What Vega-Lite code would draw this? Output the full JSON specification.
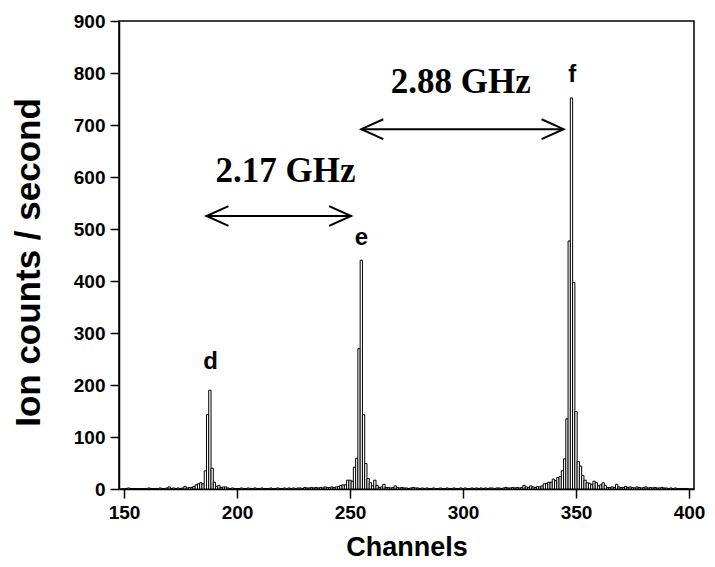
{
  "$schema": "https://vega.github.io/schema/vega-lite/v6.json",
  "width": 575,
  "height": 468,
  "autosize": {"type": "none"},
  "padding": {"left": 119, "top": 21, "right": 21, "bottom": 78},
  "background": "white",
  "config": {
    "view": {"stroke": "black", "strokeWidth": 1.5},
    "axis": {
      "grid": false,
      "domainColor": "black",
      "domainWidth": 1.5,
      "tickColor": "black",
      "tickWidth": 1.5,
      "tickSize": 9,
      "labelFont": "Liberation Sans",
      "labelFontWeight": "bold",
      "labelFontSize": 19,
      "labelColor": "black",
      "titleFont": "Liberation Sans",
      "titleFontWeight": "bold",
      "titleFontSize": 27,
      "titleColor": "black"
    }
  },
  "datasets": {
    "counts": [
      {"c":150,"v":0},{"c":151,"v":1},{"c":152,"v":2},{"c":153,"v":1},{"c":154,"v":0},{"c":155,"v":1},{"c":156,"v":0},{"c":157,"v":1},{"c":158,"v":0},{"c":159,"v":1},
      {"c":160,"v":1},{"c":161,"v":2},{"c":162,"v":1},{"c":163,"v":1},{"c":164,"v":1},{"c":165,"v":1},{"c":166,"v":2},{"c":167,"v":1},{"c":168,"v":1},{"c":169,"v":2},
      {"c":170,"v":4},{"c":171,"v":1},{"c":172,"v":2},{"c":173,"v":1},{"c":174,"v":2},{"c":175,"v":1},{"c":176,"v":2},{"c":177,"v":5},{"c":178,"v":2},{"c":179,"v":3},
      {"c":180,"v":3},{"c":181,"v":5},{"c":182,"v":8},{"c":183,"v":10},{"c":184,"v":12},{"c":185,"v":10},{"c":186,"v":35},{"c":187,"v":143},{"c":188,"v":190},{"c":189,"v":40},
      {"c":190,"v":13},{"c":191,"v":5},{"c":192,"v":7},{"c":193,"v":3},{"c":194,"v":4},{"c":195,"v":4},{"c":196,"v":2},{"c":197,"v":1},{"c":198,"v":2},{"c":199,"v":1},
      {"c":200,"v":1},{"c":201,"v":1},{"c":202,"v":2},{"c":203,"v":1},{"c":204,"v":1},{"c":205,"v":2},{"c":206,"v":1},{"c":207,"v":1},{"c":208,"v":2},{"c":209,"v":1},
      {"c":210,"v":1},{"c":211,"v":2},{"c":212,"v":1},{"c":213,"v":1},{"c":214,"v":1},{"c":215,"v":2},{"c":216,"v":1},{"c":217,"v":1},{"c":218,"v":2},{"c":219,"v":1},
      {"c":220,"v":1},{"c":221,"v":2},{"c":222,"v":1},{"c":223,"v":2},{"c":224,"v":1},{"c":225,"v":2},{"c":226,"v":1},{"c":227,"v":2},{"c":228,"v":2},{"c":229,"v":1},
      {"c":230,"v":3},{"c":231,"v":2},{"c":232,"v":2},{"c":233,"v":3},{"c":234,"v":2},{"c":235,"v":3},{"c":236,"v":2},{"c":237,"v":3},{"c":238,"v":2},{"c":239,"v":4},
      {"c":240,"v":3},{"c":241,"v":3},{"c":242,"v":4},{"c":243,"v":3},{"c":244,"v":4},{"c":245,"v":5},{"c":246,"v":7},{"c":247,"v":8},{"c":248,"v":8},{"c":249,"v":17},
      {"c":250,"v":17},{"c":251,"v":15},{"c":252,"v":42},{"c":253,"v":59},{"c":254,"v":270},{"c":255,"v":440},{"c":256,"v":143},{"c":257,"v":49},{"c":258,"v":20},{"c":259,"v":12},
      {"c":260,"v":6},{"c":261,"v":17},{"c":262,"v":7},{"c":263,"v":3},{"c":264,"v":4},{"c":265,"v":9},{"c":266,"v":3},{"c":267,"v":3},{"c":268,"v":2},{"c":269,"v":3},
      {"c":270,"v":6},{"c":271,"v":3},{"c":272,"v":2},{"c":273,"v":3},{"c":274,"v":2},{"c":275,"v":2},{"c":276,"v":1},{"c":277,"v":2},{"c":278,"v":3},{"c":279,"v":2},
      {"c":280,"v":2},{"c":281,"v":1},{"c":282,"v":2},{"c":283,"v":1},{"c":284,"v":2},{"c":285,"v":1},{"c":286,"v":1},{"c":287,"v":2},{"c":288,"v":1},{"c":289,"v":1},
      {"c":290,"v":2},{"c":291,"v":1},{"c":292,"v":1},{"c":293,"v":2},{"c":294,"v":1},{"c":295,"v":1},{"c":296,"v":2},{"c":297,"v":1},{"c":298,"v":1},{"c":299,"v":2},
      {"c":300,"v":1},{"c":301,"v":2},{"c":302,"v":1},{"c":303,"v":1},{"c":304,"v":2},{"c":305,"v":1},{"c":306,"v":2},{"c":307,"v":1},{"c":308,"v":2},{"c":309,"v":1},
      {"c":310,"v":2},{"c":311,"v":1},{"c":312,"v":2},{"c":313,"v":2},{"c":314,"v":1},{"c":315,"v":2},{"c":316,"v":2},{"c":317,"v":1},{"c":318,"v":2},{"c":319,"v":3},
      {"c":320,"v":2},{"c":321,"v":2},{"c":322,"v":3},{"c":323,"v":2},{"c":324,"v":3},{"c":325,"v":2},{"c":326,"v":3},{"c":327,"v":7},{"c":328,"v":4},{"c":329,"v":3},
      {"c":330,"v":6},{"c":331,"v":4},{"c":332,"v":3},{"c":333,"v":5},{"c":334,"v":4},{"c":335,"v":6},{"c":336,"v":10},{"c":337,"v":11},{"c":338,"v":13},{"c":339,"v":13},
      {"c":340,"v":19},{"c":341,"v":16},{"c":342,"v":22},{"c":343,"v":24},{"c":344,"v":35},{"c":345,"v":58},{"c":346,"v":135},{"c":347,"v":477},{"c":348,"v":752},{"c":349,"v":397},
      {"c":350,"v":149},{"c":351,"v":53},{"c":352,"v":44},{"c":353,"v":26},{"c":354,"v":17},{"c":355,"v":12},{"c":356,"v":11},{"c":357,"v":9},{"c":358,"v":15},{"c":359,"v":12},
      {"c":360,"v":6},{"c":361,"v":8},{"c":362,"v":12},{"c":363,"v":7},{"c":364,"v":3},{"c":365,"v":3},{"c":366,"v":4},{"c":367,"v":3},{"c":368,"v":9},{"c":369,"v":4},
      {"c":370,"v":3},{"c":371,"v":3},{"c":372,"v":5},{"c":373,"v":3},{"c":374,"v":4},{"c":375,"v":3},{"c":376,"v":2},{"c":377,"v":4},{"c":378,"v":3},{"c":379,"v":2},
      {"c":380,"v":3},{"c":381,"v":4},{"c":382,"v":2},{"c":383,"v":3},{"c":384,"v":2},{"c":385,"v":3},{"c":386,"v":2},{"c":387,"v":2},{"c":388,"v":3},{"c":389,"v":2},
      {"c":390,"v":2},{"c":391,"v":1},{"c":392,"v":2},{"c":393,"v":1},{"c":394,"v":2},{"c":395,"v":1},{"c":396,"v":1},{"c":397,"v":1},{"c":398,"v":1},{"c":399,"v":1}
    ],
    "arrows": [
      {"x1": 186.5, "x2": 250.5, "y": 525},
      {"x1": 255, "x2": 344.5, "y": 692}
    ],
    "heads": [
      {"x": 186.5, "y": 525, "dir": "left"},
      {"x": 250.5, "y": 525, "dir": "right"},
      {"x": 255, "y": 692, "dir": "left"},
      {"x": 344.5, "y": 692, "dir": "right"}
    ],
    "ghz": [
      {"x": 221.5, "y": 591, "t": "2.17 GHz"},
      {"x": 299, "y": 762, "t": "2.88 GHz"}
    ],
    "peaks": [
      {"x": 188.3, "y": 231, "t": "d"},
      {"x": 255, "y": 469, "t": "e"},
      {"x": 348.3, "y": 783, "t": "f"}
    ]
  },
  "layer": [
    {
      "data": {"name": "counts"},
      "mark": {"type": "bar", "width": 2.3, "fill": "white", "stroke": "black", "strokeWidth": 1},
      "encoding": {
        "x": {
          "field": "c", "type": "quantitative",
          "scale": {"domain": [150, 400], "nice": false, "zero": false},
          "axis": {"values": [150, 200, 250, 300, 350, 400], "title": "Channels", "labelPadding": 5, "titlePadding": 12}
        },
        "y": {
          "field": "v", "type": "quantitative",
          "scale": {"domain": [0, 900], "nice": false},
          "axis": {"values": [0, 100, 200, 300, 400, 500, 600, 700, 800, 900], "title": "Ion counts / second", "labelPadding": 5, "titlePadding": 27, "titleFontSize": 35, "titleY": 241}
        }
      }
    },
    {
      "data": {"name": "arrows"},
      "mark": {"type": "rule", "color": "black", "strokeWidth": 2},
      "encoding": {
        "x": {"field": "x1", "type": "quantitative"},
        "x2": {"field": "x2"},
        "y": {"field": "y", "type": "quantitative"}
      }
    },
    {
      "data": {"name": "heads"},
      "mark": {"type": "point", "filled": false, "stroke": "black", "strokeWidth": 2, "size": 1936, "opacity": 1},
      "encoding": {
        "x": {"field": "x", "type": "quantitative"},
        "y": {"field": "y", "type": "quantitative"},
        "shape": {
          "field": "dir", "type": "nominal",
          "scale": {"domain": ["left", "right"], "range": ["M1,-0.45L0,0L1,0.45", "M-1,-0.45L0,0L-1,0.45"]},
          "legend": null
        }
      }
    },
    {
      "data": {"name": "ghz"},
      "mark": {"type": "text", "font": "Liberation Serif", "fontWeight": "bold", "fontSize": 35, "baseline": "alphabetic", "align": "center", "color": "black"},
      "encoding": {
        "x": {"field": "x", "type": "quantitative"},
        "y": {"field": "y", "type": "quantitative"},
        "text": {"field": "t"}
      }
    },
    {
      "data": {"name": "peaks"},
      "mark": {"type": "text", "font": "Liberation Sans", "fontWeight": "bold", "fontSize": 24, "baseline": "alphabetic", "align": "center", "color": "black"},
      "encoding": {
        "x": {"field": "x", "type": "quantitative"},
        "y": {"field": "y", "type": "quantitative"},
        "text": {"field": "t"}
      }
    }
  ]
}
